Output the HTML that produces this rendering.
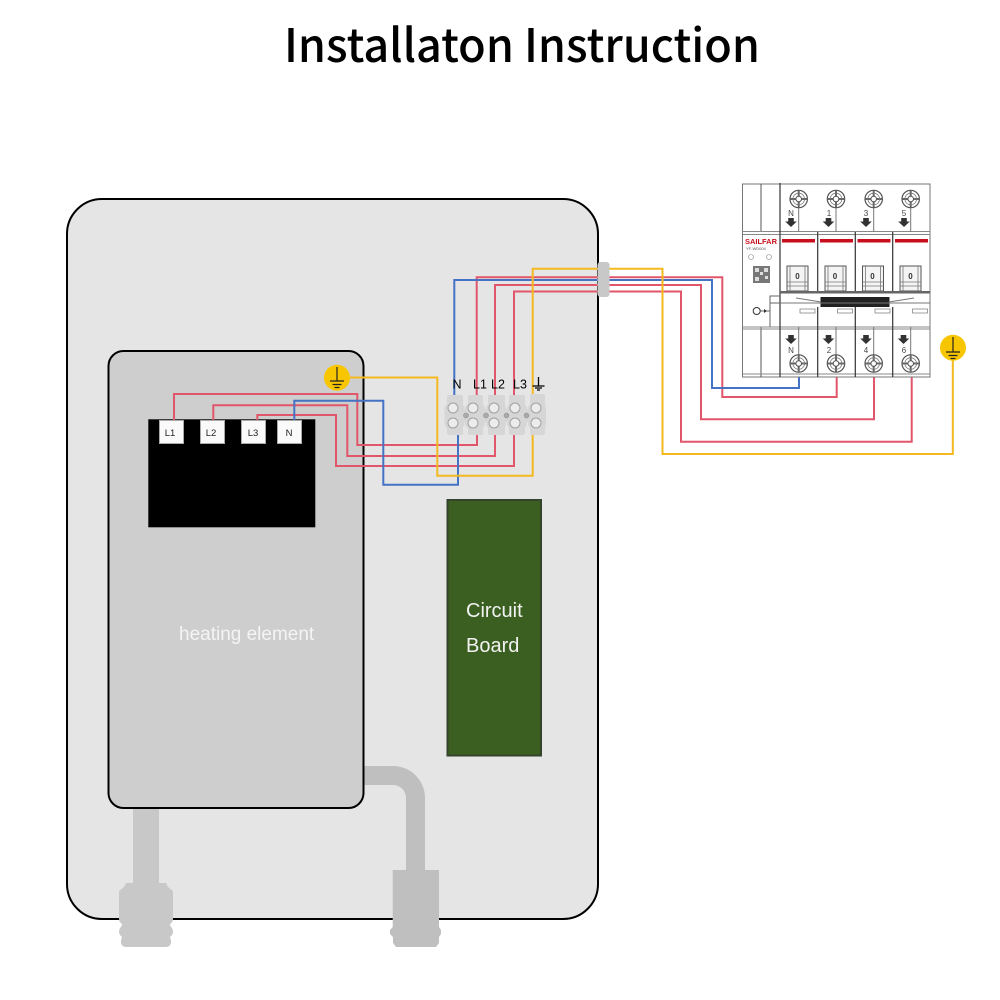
<!DOCTYPE html>
<html><head><meta charset="utf-8"><style>
html,body{margin:0;padding:0;background:#fff}
svg{display:block}
.s{font-family:"Liberation Sans",sans-serif}
</style></head><body>
<svg width="1000" height="1000" viewBox="0 0 1000 1000" xmlns="http://www.w3.org/2000/svg">
<defs>
<filter id="b" x="-5%" y="-5%" width="110%" height="110%"><feGaussianBlur stdDeviation="0.35"/></filter>
<g id="screw">
<circle r="8.700" fill="#fff" stroke="#555" stroke-width="1.200"/>
<path d="M-8.500 0H-3M3 0H8.500M0-8.500V-3M0 3V8.500" stroke="#666" stroke-width="2" fill="none"/>
<circle r="5.800" fill="none" stroke="#777" stroke-width=".8"/>
<circle r="2.800" fill="#fff" stroke="#555" stroke-width="1"/>
</g>
<path id="arr" d="M-2.800 0h5.600v3.500h3l-5.800 5.500-5.800-5.500h3z" fill="#333"/>
<g id="rock">
<rect x="0" y="0" width="21" height="25" fill="#f4f4f4" stroke="#555" stroke-width="1"/>
<path d="M3 0V25M18 0V25M0 16H21M0 20H21" stroke="#777" stroke-width=".8" fill="none"/>
</g>
</defs>
<rect width="1000" height="1000" fill="#fff"/>
<text x="284" y="62" font-family="'Noto Sans CJK SC','Liberation Sans',sans-serif" font-weight="500" font-size="46" textLength="476" lengthAdjust="spacingAndGlyphs" fill="#000">Installaton Instruction</text>

<!-- main housing -->
<rect x="67" y="199" width="531" height="720" rx="35" fill="#e5e5e5" stroke="#000" stroke-width="2"/>

<!-- pipes -->
<g fill="#c8c8c8">
<rect x="133" y="808" width="26" height="80"/>
<path d="M126 883H166L168 887L173 891V919Q173 922 170 924Q170 926 172 928Q174 932 172 935L170 937L171 940V943Q170 947 166 947H126Q122 947 121 943V940L122 937L120 935Q118 932 120 928Q122 926 122 924Q119 922 119 919V891L124 887Z"/>
</g>
<g fill="#bfbfbf">
<path d="M363 766h30a32 32 0 0 1 32 32v74h-19v-74a13 13 0 0 0-13-13h-30z"/>
<path d="M392.700 870H439V927L441 930V934L439 937V943L436 947H396L393 943V937L390 934V930L392.700 927Z"/>
</g>

<!-- heating element -->
<rect x="108.500" y="351" width="255" height="457" rx="15" fill="#cfcece" stroke="#000" stroke-width="2"/>
<text x="179" y="640" class="s" font-size="19" fill="#f4f4f4">heating element</text>

<!-- black block + terminals -->
<rect x="148.300" y="419.300" width="167" height="108" fill="#000"/>
<g fill="#fafafa" stroke="#a9a9a9" stroke-width="1">
<rect x="159.500" y="420.500" width="24" height="23"/>
<rect x="200.500" y="420.500" width="24" height="23"/>
<rect x="241.500" y="420.500" width="24" height="23"/>
<rect x="277.500" y="420.500" width="24" height="23"/>
</g>
<g class="s" font-size="9.500" text-anchor="middle" fill="#222">
<text x="170" y="436">L1</text><text x="211" y="436">L2</text><text x="253" y="436">L3</text><text x="289" y="436">N</text>
</g>

<!-- circuit board -->
<rect x="447.500" y="500" width="93.500" height="255.500" fill="#3a5f20" stroke="#33432c" stroke-width="2"/>
<g class="s" font-size="20" fill="#f2f2f2">
<text x="466" y="617">Circuit</text><text x="466" y="652">Board</text>
</g>

<!-- wires -->
<g fill="none" stroke-width="2">
<g stroke="#e2566b">
<path d="M174 420V394H357.300V445H477V430"/>
<path d="M213.300 420V405.300H347.300V456H495V430"/>
<path d="M257.300 420V415H336V466H514V430"/>
<path d="M476.700 400V277.300H722.300V397H836.700V376"/>
<path d="M495 400V285H701V419.300H874V377"/>
<path d="M514 400V291.500H681V441.700H911.700V377"/>
</g>
<g stroke="#4472c4">
<path d="M294.300 420V400.700H383.300V484.700H458V430"/>
<path d="M454.300 400V280H712V388H799V376"/>
</g>
<g stroke="#f5b91f">
<path d="M345 377.500H437.300V475.700H532.700V430"/>
<path d="M532.700 400V268.700H662.500V454H952.800V355"/>
</g>
</g>

<!-- terminal block -->
<g fill="#d6d6d6">
<rect x="447" y="395" width="16" height="40" rx="2"/><rect x="444.500" y="403" width="20" height="26" rx="6"/>
<rect x="468" y="395" width="15" height="40" rx="2"/><rect x="465" y="403" width="20" height="26" rx="6"/>
<rect x="488" y="395" width="17" height="40" rx="2"/><rect x="486" y="403" width="20" height="26" rx="6"/>
<rect x="509" y="395" width="16" height="40" rx="2"/><rect x="507" y="403" width="20" height="26" rx="6"/>
<rect x="530" y="394" width="15" height="41" rx="2"/><rect x="528" y="403" width="18" height="26" rx="6"/>
<rect x="458" y="409" width="76" height="13"/>
</g>
<g fill="#ececec" stroke="#a0a0a0" stroke-width="1">
<circle cx="453" cy="408" r="5"/><circle cx="453" cy="423" r="5"/>
<circle cx="473" cy="408" r="5"/><circle cx="473" cy="423" r="5"/>
<circle cx="494" cy="408" r="5"/><circle cx="494" cy="423" r="5"/>
<circle cx="515" cy="408" r="5"/><circle cx="515" cy="423" r="5"/>
<circle cx="536" cy="408" r="5"/><circle cx="536" cy="423" r="5"/>
</g>
<g fill="#aaa" stroke="#888" stroke-width=".5">
<circle cx="466" cy="415.500" r="2.500"/><circle cx="486" cy="415.500" r="2.500"/><circle cx="506.500" cy="415.500" r="2.500"/><circle cx="526.500" cy="415.500" r="2.500"/>
</g>
<rect x="450" y="377" width="92" height="15" fill="#e5e5e5" opacity="0"/>
<g class="s" font-size="12.500" fill="#000">
<text x="452.500" y="388.500">N</text><text x="473" y="388.500">L1</text><text x="491" y="388.500">L2</text><text x="513" y="388.500">L3</text>
</g>
<path d="M538.500 377V386M532.500 386h12M535 388h7M537 390h3" stroke="#000" stroke-width="1.300" fill="none"/>

<!-- gland -->
<rect x="597.500" y="262" width="12" height="35" rx="3" fill="#c8c8c8"/>

<!-- earth symbols -->
<circle cx="337" cy="377.700" r="13" fill="#f7c600"/>
<path d="M337 367V381M330 381h14M332.500 384.500h9M334.500 387.500h5" stroke="#222" stroke-width="1.200" fill="none"/>
<circle cx="953" cy="347.700" r="13" fill="#f7c600"/>
<path d="M953 337V352M946 352h14M948.500 355.500h9M950.500 358.500h5" stroke="#222" stroke-width="1.200" fill="none"/>

<!-- breaker -->
<g filter="url(#b)">
<g fill="none" stroke="#555" stroke-width="1">
<rect x="742.500" y="184" width="187.500" height="193" fill="#fff" stroke="#777"/>
<path d="M761 184V231M761 327V377"/>
<path d="M742.500 231.500H930M742.500 234.500H930M742.500 327H930M742.500 329H930M742.500 374H930" stroke="#888"/>
<path d="M780 183V377" stroke="#333" stroke-width="1.200"/>
<path d="M817.700 232V291M855.300 232V291M892.700 232V291M817.700 307V377M855.300 307V377M892.700 307V377" stroke="#333" stroke-width="1.200"/>
<path d="M798.700 190V232M836 190V232M873.700 190V232M910.700 190V232M798.700 327V372M836 327V372M873.700 327V372M910.700 327V372" stroke="#777"/>
</g>
<g fill="#c8101c">
<rect x="782" y="239" width="33" height="3.500"/><rect x="820" y="239" width="33" height="3.500"/><rect x="857.500" y="239" width="33" height="3.500"/><rect x="895" y="239" width="33" height="3.500"/>
</g>
<use href="#screw" x="798.700" y="199"/><use href="#screw" x="836" y="199"/><use href="#screw" x="873.700" y="199"/><use href="#screw" x="910.700" y="199"/>
<use href="#screw" x="798.700" y="363.500"/><use href="#screw" x="836" y="363.500"/><use href="#screw" x="873.700" y="363.500"/><use href="#screw" x="910.700" y="363.500"/>
<use href="#arr" x="791" y="218"/><use href="#arr" x="828.500" y="218"/><use href="#arr" x="866" y="218"/><use href="#arr" x="904" y="218"/>
<use href="#arr" x="791" y="335"/><use href="#arr" x="828.500" y="335"/><use href="#arr" x="866" y="335"/><use href="#arr" x="903.500" y="335"/>
<g class="s" font-size="8" fill="#444" text-anchor="middle">
<text x="791" y="216">N</text><text x="829" y="216">1</text><text x="866" y="216">3</text><text x="904" y="216">5</text>
<text x="791" y="353">N</text><text x="829" y="353">2</text><text x="866" y="353">4</text><text x="904" y="353">6</text>
</g>
<use href="#rock" x="787" y="266"/><use href="#rock" x="825" y="266"/><use href="#rock" x="862.500" y="266"/><use href="#rock" x="900" y="266"/>
<g class="s" font-size="8" font-weight="bold" fill="#333" text-anchor="middle">
<text x="797.500" y="279">0</text><text x="835" y="279">0</text><text x="872.500" y="279">0</text><text x="910.500" y="279">0</text>
</g>
<rect x="780" y="291" width="150" height="2.500" fill="#666"/>
<rect x="820.500" y="297" width="69" height="10" fill="#222"/>
<path d="M780 303H930M796 298l25 4M914 298l-25 4" stroke="#777" stroke-width="1" fill="none"/>
<g fill="#fff" stroke="#888" stroke-width=".8">
<rect x="800" y="309" width="15" height="4"/><rect x="837.500" y="309" width="15" height="4"/><rect x="875" y="309" width="15" height="4"/><rect x="912.500" y="309" width="15" height="4"/>
</g>
<text x="745" y="244" class="s" font-size="7.500" font-weight="bold" textLength="32" fill="#c8101c">SAILFAR</text>
<text x="746" y="250" class="s" font-size="4" fill="#555">YF-WD004</text>
<circle cx="751" cy="257" r="2.500" fill="none" stroke="#888" stroke-width=".6"/><circle cx="769" cy="257" r="2.500" fill="none" stroke="#888" stroke-width=".6"/>
<rect x="753" y="266" width="17" height="17" fill="#777"/>
<path d="M755 268h4v4h-4zM764 268h4v4h-4zM755 277h4v4h-4zM760 272h3v3h-3zM765 276h3v3h-3z" fill="#ddd"/>
<path d="M760 311H770V296H780M770 303H780M770 311V327" stroke="#666" fill="none"/>
<circle cx="756.700" cy="311" r="3.500" fill="#fff" stroke="#333" stroke-width="1"/>
<path d="M764 309l3 2-3 2z" fill="#333"/>
</g>
</svg>
</body></html>
